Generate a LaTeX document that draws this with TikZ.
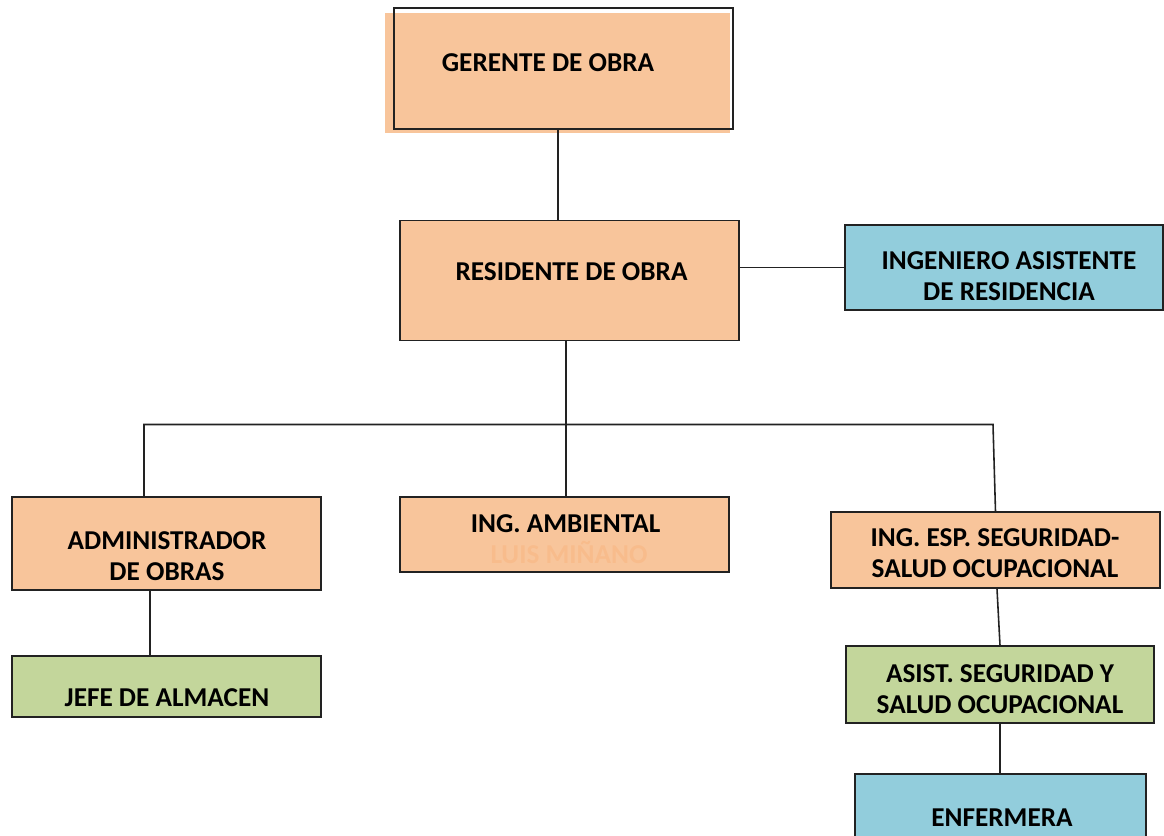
\documentclass[tikz,border=0pt]{standalone}
\usepackage{fontspec}
\setmainfont{Carlito}
\usetikzlibrary{positioning}
\definecolor{naranja}{HTML}{F8C59B}
\definecolor{celeste}{HTML}{92CDDC}
\definecolor{verde}{HTML}{C3D69B}
\definecolor{borde}{HTML}{222222}
\definecolor{tenue}{HTML}{F8BC8C}
\tikzset{
	caja/.style={draw=borde, line width=0.9pt, inner sep=0pt},
	texto/.style={font=\fontsize{15.5}{17.5}\selectfont\bfseries, align=center, inner sep=0pt},
	linea/.style={draw=borde, line width=0.9pt}
}
\begin{document}
\begin{tikzpicture}
	\useasboundingbox (0,0) rectangle (23.28,-16.70);
	%% cajas
	\fill[naranja] (7.70,-0.26) rectangle (14.60,-2.66);
	\node[caja, minimum width=6.78cm, minimum height=2.42cm] (ger) at (11.27,-1.37) {};
	\node[caja, fill=naranja, minimum width=6.78cm, minimum height=2.40cm] (res) at (11.39,-5.61) {};
	\node[caja, fill=celeste, minimum width=6.36cm, minimum height=1.70cm] (ing) at (20.08,-5.35) {};
	\node[caja, fill=naranja, minimum width=6.18cm, minimum height=1.86cm] (adm) at (3.33,-10.87) {};
	\node[caja, fill=naranja, minimum width=6.58cm, minimum height=1.50cm] (amb) at (11.29,-10.69) {};
	\node[caja, fill=naranja, minimum width=6.58cm, minimum height=1.52cm] (seg) at (19.91,-11.00) {};
	\node[caja, fill=verde, minimum width=6.18cm, minimum height=1.22cm] (jefe) at (3.33,-13.73) {};
	\node[caja, fill=verde, minimum width=6.16cm, minimum height=1.54cm] (asi) at (20.00,-13.69) {};
	\node[caja, fill=celeste, minimum width=5.82cm, minimum height=1.80cm] (enf) at (20.01,-16.38) {};
	% textos
	\node[texto] (tger) at (10.96,-1.25) {GERENTE DE OBRA};
	\node[texto] (tres) at (11.43,-5.44) {RESIDENTE DE OBRA};
	\node[texto] (ting) at (20.18,-5.52) {INGENIERO ASISTENTE\\DE RESIDENCIA};
	\node[texto] (tadm) at (3.34,-11.12) {ADMINISTRADOR\\DE OBRAS};
	\node[texto] (tamb) at (11.31,-10.48) {ING. AMBIENTAL};
	\node[texto, text=tenue, anchor=base] (tluis) at (11.38,-11.26) {LUIS MIÑANO};
	\node[texto] (tseg) at (19.90,-11.07) {ING. ESP. SEGURIDAD-\\SALUD OCUPACIONAL};
	\node[texto] (tjefe) at (3.34,-13.95) {JEFE DE ALMACEN};
	\node[texto] (tasi) at (20.00,-13.78) {ASIST. SEGURIDAD Y\\SALUD OCUPACIONAL};
	\node[texto] (tenf) at (20.04,-16.36) {ENFERMERA};
	%% conectores
	\coordinate (bus) at (19.86,-8.49);
	\draw[linea] (ger.south -| 11.16,0) -- (res.north -| 11.16,0);
	\draw[linea] (ing.west -| res.east) -- (ing.west);
	\draw[linea] (res.south -| 11.32,0) -- (amb.north -| 11.32,0);
	\draw[linea] (adm.north -| 2.88,0) |- (bus) -- (seg.north);
	\draw[linea] (adm.south -| 3.00,0) -- (jefe.north -| 3.00,0);
	\draw[linea] (seg.south -| 19.94,0) -- (asi.north);
	\draw[linea] (asi.south) -- (enf.north -| asi.south);
\end{tikzpicture}
\end{document}
